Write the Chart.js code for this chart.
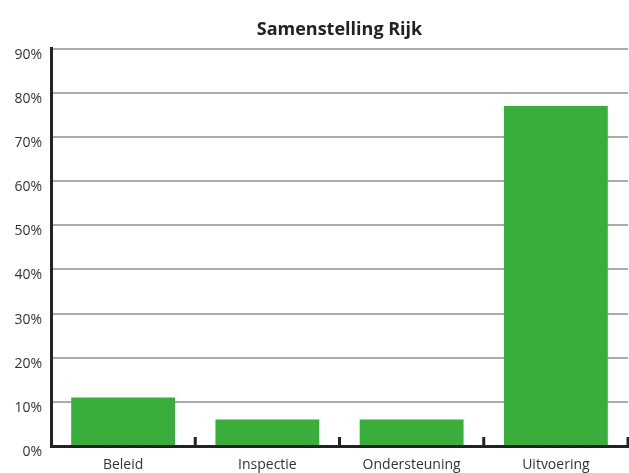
<!DOCTYPE html>
<html>
<head>
<meta charset="utf-8">
<script src="https://cdn.jsdelivr.net/npm/chart.js@4"></script>
<style>
  body { margin: 0; background: #fff; }
</style>
</head>
<body>
<canvas id="chartContainer" width="629" height="473"></canvas>
<script>
// data
const categories = ['Beleid', 'Inspectie', 'Ondersteuning', 'Uitvoering'];
const shares = [11, 6, 6, 77];
const yTicks = [0, 10, 20, 30, 40, 50, 60, 70, 80, 90];

// small tick marks between the categories, pointing up into the plot
const betweenTicks = {
  id: 'betweenTicks',
  afterDraw(chart) {
    const x = chart.scales.x;
    const ctx = chart.ctx;
    const step = x.getPixelForValue(1) - x.getPixelForValue(0);
    ctx.save();
    ctx.strokeStyle = '#222';
    ctx.lineWidth = 3;
    for (let i = 0; i < categories.length; i++) {
      const px = x.getPixelForValue(i) + step / 2;
      ctx.beginPath();
      ctx.moveTo(px, chart.chartArea.bottom);
      ctx.lineTo(px, chart.chartArea.bottom - 9);
      ctx.stroke();
    }
    ctx.restore();
  }
};

let chartContainer = document.getElementById('chartContainer').getContext('2d');
let chart = new Chart(chartContainer, {
  type: 'bar',
  data: {
    labels: categories,
    datasets: [{
      label: 'Samenstelling Rijk',
      backgroundColor: '#39ae3b',
      data: shares,
      barPercentage: 0.72,
      categoryPercentage: 1
    }]
  },
  options: {
    responsive: false,
    animation: false,
    layout: { padding: { right: 1 } },
    plugins: {
      legend: { display: false },
      tooltip: { enabled: false },
      title: {
        display: true,
        text: 'Samenstelling Rijk',
        fullSize: false,
        color: '#222',
        font: { family: 'Open Sans', size: 18, weight: 'bold' },
        padding: { top: 19, bottom: 8 }
      }
    },
    scales: {
      x: {
        grid: { display: false },
        border: { display: true, color: '#222', width: 3 },
        ticks: {
          color: '#333',
          padding: 3,
          font: { family: 'Open Sans', size: 14 }
        },
        afterFit(scale) { scale.height = 27; }
      },
      y: {
        min: 0,
        max: 90,
        afterBuildTicks(scale) { scale.ticks = yTicks.map(v => ({ value: v })); },
        grid: { color: '#aaa', lineWidth: 2, drawTicks: false },
        border: { display: true, color: '#222', width: 3 },
        ticks: {
          color: '#333',
          padding: 9,
          labelOffset: 6,
          font: { family: 'Open Sans', size: 14 },
          callback: v => v + '%'
        },
        afterFit(scale) { scale.width = 51; }
      }
    }
  },
  plugins: [betweenTicks]
});
</script>
</body>
</html>
